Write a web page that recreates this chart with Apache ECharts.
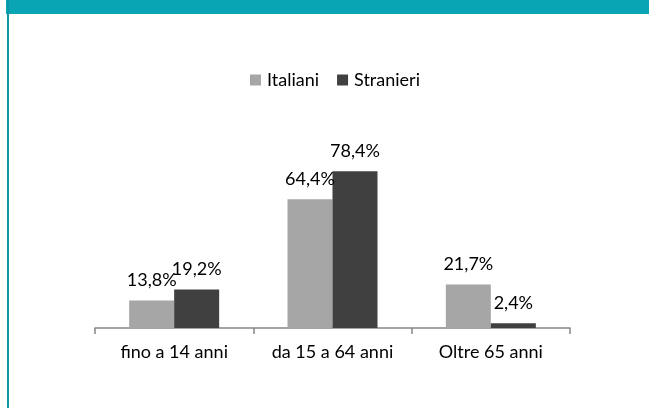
<!DOCTYPE html>
<html>
<head>
<meta charset="utf-8">
<script src="https://cdn.jsdelivr.net/npm/echarts@6/dist/echarts.min.js"></script>
<style>
html, body { margin: 0; padding: 0; background: #fff; }
#grafico { width: 649px; height: 408px; }
</style>
</head>
<body>
<div id="grafico"></div>
<script>
var categorie = ['fino a 14 anni', 'da 15 a 64 anni', 'Oltre 65 anni'];
var italiani = [13.8, 64.4, 21.7];
var stranieri = [19.2, 78.4, 2.4];
var serieNomi = ['Italiani', 'Stranieri'];

var FONT = 'Lato';

function etichetta(p) {
	return p.value.toFixed(1).replace('.', ',') + '%';  // virgola decimale
}

var chart = echarts.init(document.getElementById('grafico'));

var option = {
	animation: false,
	textStyle: { fontFamily: FONT },
	graphic: [
		{ type: 'rect', left: 6, top: 0, shape: { width: 643, height: 14 }, style: { fill: '#09A5B5' } },
		{ type: 'rect', left: 7, top: 0, shape: { width: 2, height: 408 }, style: { fill: '#0E97A6' } }
	],
	legend: {
		top: 66,
		left: 245,
		itemWidth: 11,
		itemHeight: 11,
		itemGap: 18,
		icon: 'rect',
		textStyle: { fontFamily: FONT, fontSize: 18, color: '#000', padding: [0, 0, 0, 1] },
		data: serieNomi
	},
	grid: { left: 95, right: 79, top: 128, bottom: 80 },
	xAxis: {
		type: 'category',
		data: categorie,
		axisLine: { lineStyle: { color: '#868686', width: 1.5 } },
		axisTick: { show: true, length: 6, lineStyle: { color: '#868686', width: 1.5 } },
		axisLabel: { fontFamily: FONT, fontSize: 18, color: '#000', margin: 15 }
	},
	yAxis: {
		type: 'value',
		min: 0,
		max: 100,
		show: false
	},
	series: [
		{
			name: serieNomi[0],
			type: 'bar',
			data: italiani,
			barWidth: 45,
			barGap: '0%',
			itemStyle: { color: '#A6A6A6' },
			label: { show: true, position: 'top', distance: 11, formatter: etichetta, fontFamily: FONT, fontSize: 18, color: '#000' }
		},
		{
			name: serieNomi[1],
			type: 'bar',
			data: stranieri,
			barWidth: 45,
			barGap: '0%',
			itemStyle: { color: '#404040' },
			label: { show: true, position: 'top', distance: 11, formatter: etichetta, fontFamily: FONT, fontSize: 18, color: '#000' }
		}
	]
};
chart.setOption(option);
</script>
</body>
</html>
